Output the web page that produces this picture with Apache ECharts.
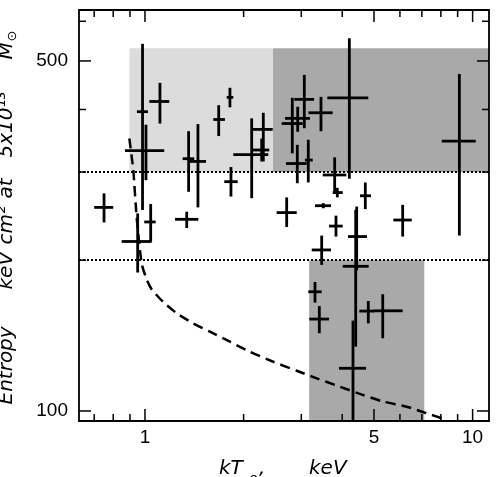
<!DOCTYPE html>
<html>
<head>
<meta charset="utf-8">
<script src="https://cdn.jsdelivr.net/npm/echarts@6/dist/echarts.min.js"></script>
<style>
  html, body { margin: 0; padding: 0; background: #fff; }
  #chart { width: 498px; height: 477px; }
</style>
</head>
<body>
<div id="chart"></div>
<script>
// 数据: 每个点的温度 kT (keV) 和 熵 S, 以及误差范围
const kT   = [0.983, 1.007, 1.111, 1.359, 1.451, 1.679, 1.817, 2.117, 2.297, 2.271, 3.064, 2.925, 2.816, 3.445, 4.205, 9.11, 2.917, 3.151, 3.793, 3.864, 4.704, 2.707, 3.502, 3.828, 6.117, 4.428, 4.397, 4.314, 3.303, 3.405, 4.804, 5.317, 0.750, 1.041, 0.950, 1.830, 1.341, 3.462]
const kTLo = [0.945, 0.869, 1.031, 1.303, 1.372, 1.616, 1.776, 1.860, 2.117, 2.122, 2.856, 2.676, 2.614, 3.155, 3.602, 8.05, 2.694, 3.078, 3.487, 3.741, 4.532, 2.523, 3.303, 3.645, 5.728, 4.166, 4.014, 3.910, 3.151, 3.173, 4.510, 4.976, 0.700, 0.995, 0.849, 1.746, 1.235, 3.228]
const kTHi = [1.021, 1.145, 1.186, 1.414, 1.536, 1.754, 1.860, 2.379, 2.454, 2.395, 3.281, 3.189, 3.030, 3.741, 4.804, 10.22, 3.116, 3.251, 4.117, 4.014, 4.896, 2.905, 3.696, 4.014, 6.520, 4.760, 4.818, 4.727, 3.462, 3.645, 5.010, 6.117, 0.800, 1.078, 1.048, 1.919, 1.455, 3.696]
const S    = [396, 331, 415, 319, 315, 382, 423, 325, 365, 332, 419, 384, 375, 394, 422, 346, 312, 317, 296, 273, 269, 249, 257, 234, 240.6, 223, 194.5, 121.7, 173, 152.6, 158.3, 158.5, 255, 238.5, 218, 287, 241.4, 209.7]
const SLo  = [252, 289, 375, 274, 255, 354, 404, 266, 315, 315, 367, 361, 327, 362, 291, 224, 285, 286, 272, 267, 253, 233, 254, 223, 223, 191, 134.4, 95.5, 164.6, 143, 149.6, 139.7, 238, 218, 189, 268, 232, 195.8]
const SHi  = [541, 373, 452, 362, 374, 408, 442, 384, 394, 350, 469, 405, 422, 424, 555, 471, 340, 348, 321, 279, 286, 267, 260, 245.5, 258, 256, 252, 151.5, 181, 162, 165.8, 171, 272, 259, 248, 307, 250, 224]

// 虚线曲线
const curveKT = [0.896, 0.921, 0.943, 0.977, 1.012, 1.048, 1.137, 1.25, 1.404, 1.579, 1.817, 2.092, 2.464, 2.905, 3.343, 3.937, 4.638, 5.339, 6.293, 7.155, 8.237]
const curveS  = [350, 303, 244, 197, 183, 175, 165, 156.7, 149.6, 144, 137.5, 131.3, 125.4, 120.3, 116.2, 111.8, 107.6, 104.4, 102.0, 99.2, 96.2]

// 灰色区域 [kT 左, kT 右, S 下, S 上]
const lightBox = [0.896, 2.459, 300, 530]
const darkBox  = [2.459, 11.22, 300, 530]
const lowBox   = [3.17, 7.12, 95.5, 200]
// 点线位置
const dottedS = [300, 200]

// 轴范围 & 刻度
const xRange = [0.629, 11.22]
const yRange = [95.5, 632]
const xMajor = [1, 5, 10]
const xMinor = [0.7, 0.8, 0.9, 2, 3, 4, 6, 7, 8, 9]
const yMajor = [100, 500]
const yMinor = [200, 300, 400, 600]

const myChart = echarts.init(document.querySelector('#chart'))

const tickStyle = { stroke: '#000', lineWidth: 1.5 }
const labelFont = '19px "Liberation Sans", Arial, sans-serif'

// x 轴刻度 (上下两边)
const renderXTick = (params, api) => {
  const cs = params.coordSys
  const x = api.coord([api.value(0), 200])[0]
  const major = api.value(2) === 1
  const len = major ? 12 : 7
  const bottom = cs.y + cs.height
  const children = [
    { type: 'line', shape: { x1: x, y1: bottom, x2: x, y2: bottom - len }, style: tickStyle },
    { type: 'line', shape: { x1: x, y1: cs.y, x2: x, y2: cs.y + len }, style: tickStyle }
  ]
  if (major) {
    children.push({
      type: 'text',
      style: { text: String(api.value(0)), x, y: bottom + 17, textAlign: 'center', textVerticalAlign: 'middle', font: labelFont, fill: '#000' }
    })
  }
  return { type: 'group', children }
}

// y 轴刻度 (左右两边)
const renderYTick = (params, api) => {
  const cs = params.coordSys
  const y = api.coord([1, api.value(1)])[1]
  const major = api.value(2) === 1
  const len = major ? 12 : 7
  const right = cs.x + cs.width
  const children = [
    { type: 'line', shape: { x1: cs.x, y1: y, x2: cs.x + len, y2: y }, style: tickStyle },
    { type: 'line', shape: { x1: right, y1: y, x2: right - len, y2: y }, style: tickStyle }
  ]
  if (major) {
    children.push({
      type: 'text',
      style: { text: String(api.value(1)), x: cs.x - 11, y, textAlign: 'right', textVerticalAlign: 'middle', font: labelFont, fill: '#000' }
    })
  }
  return { type: 'group', children }
}

// 误差十字
const renderCross = (params, api) => {
  const l = api.coord([api.value(2), api.value(1)])
  const r = api.coord([api.value(3), api.value(1)])
  const b = api.coord([api.value(0), api.value(4)])
  const t = api.coord([api.value(0), api.value(5)])
  const style = { stroke: '#000', lineWidth: 2.8 }
  return {
    type: 'group',
    children: [
      { type: 'line', shape: { x1: l[0], y1: l[1], x2: r[0], y2: r[1] }, style },
      { type: 'line', shape: { x1: b[0], y1: b[1], x2: t[0], y2: t[1] }, style }
    ]
  }
}

// 外框
const renderFrame = (params) => {
  const cs = params.coordSys
  return {
    type: 'rect',
    shape: { x: cs.x, y: cs.y, width: cs.width, height: cs.height },
    style: { fill: 'none', stroke: '#000', lineWidth: 1.8 }
  }
}

// 轴名称文字样式 (整体居中, 片段内左对齐)
const nameBase = { fontFamily: 'DejaVu Sans', fontStyle: 'italic', fontSize: 20, color: '#000', lineHeight: 24 }
const xNameBase = { ...nameBase, lineHeight: 34 }
const frag = (base, extra) => ({ ...base, align: 'left', ...extra })
const boxArea = (box, color) => [
  { xAxis: box[0], yAxis: box[2], itemStyle: { color, opacity: 1 } },
  { xAxis: box[1], yAxis: box[3] }
]

const option = {
  animation: false,
  grid: { left: 79, right: 9, top: 10, bottom: 56, outerBoundsMode: 'none', containLabel: false },
  xAxis: {
    type: 'log',
    logBase: 10,
    min: xRange[0],
    max: xRange[1],
    axisLine: { show: false },
    axisTick: { show: false },
    axisLabel: { show: false },
    splitLine: { show: false },
    name: '{k|kT}{s|e}{p|,}{v|keV}',
    nameLocation: 'middle',
    nameGap: 31,
    nameTextStyle: {
      ...xNameBase,
      rich: {
        k: frag(xNameBase, { width: 30 }),
        s: frag(xNameBase, { fontSize: 14, width: 10, verticalAlign: 'bottom', lineHeight: 14 }),
        p: frag(xNameBase, { width: 50 }),
        v: frag(xNameBase, { width: 40 })
      }
    }
  },
  yAxis: {
    type: 'log',
    logBase: 10,
    min: yRange[0],
    max: yRange[1],
    axisLine: { show: false },
    axisTick: { show: false },
    axisLabel: { show: false },
    splitLine: { show: false },
    name: '{e|Entropy}{k|keV}{c|cm²}{a|at}{f|5x10¹³}{m|M}{o|⊙}',
    nameLocation: 'middle',
    nameRotate: 90,
    nameGap: 60,
    nameTextStyle: {
      ...nameBase,
      rich: {
        e: frag(nameBase, { width: 115 }),
        k: frag(nameBase, { width: 45 }),
        c: frag(nameBase, { width: 46 }),
        a: frag(nameBase, { width: 41 }),
        f: frag(nameBase, { width: 98 }),
        m: frag(nameBase, { width: 18 }),
        o: frag(nameBase, { fontSize: 13, width: 15, verticalAlign: 'bottom', lineHeight: 13 })
      }
    }
  },
  series: [
    {
      // 灰色区域 + 点线
      type: 'line',
      data: [],
      z: 1,
      silent: true,
      markArea: {
        silent: true,
        data: [
          boxArea(lightBox, '#dcdcdc'),
          boxArea(darkBox, '#a9a9a9'),
          boxArea(lowBox, '#a9a9a9')
        ]
      },
      markLine: {
        silent: true,
        symbol: 'none',
        label: { show: false },
        lineStyle: { color: '#000', type: [2, 2], width: 2 },
        data: dottedS.map(v => ({ yAxis: v }))
      }
    },
    {
      type: 'line',
      z: 3,
      silent: true,
      symbol: 'none',
      smooth: 0.2,
      lineStyle: { color: '#000', width: 2.5, type: [10, 6] },
      data: curveKT.map((v, i) => [v, curveS[i]])
    },
    {
      type: 'custom',
      z: 5,
      silent: true,
      clip: true,
      renderItem: renderCross,
      encode: { x: 0, y: 1 },
      data: kT.map((v, i) => [v, S[i], kTLo[i], kTHi[i], SLo[i], SHi[i]])
    },
    {
      type: 'custom',
      z: 10,
      silent: true,
      clip: false,
      renderItem: renderXTick,
      encode: { x: 0, y: 1 },
      data: [...xMajor.map(v => [v, 200, 1]), ...xMinor.map(v => [v, 200, 0])]
    },
    {
      type: 'custom',
      z: 10,
      silent: true,
      clip: false,
      renderItem: renderYTick,
      encode: { x: 0, y: 1 },
      data: [...yMajor.map(v => [1, v, 1]), ...yMinor.map(v => [1, v, 0])]
    },
    {
      type: 'custom',
      z: 11,
      silent: true,
      clip: false,
      renderItem: renderFrame,
      encode: { x: 0, y: 1 },
      data: [[1, 200]]
    }
  ]
}

myChart.setOption(option)
</script>
</body>
</html>
